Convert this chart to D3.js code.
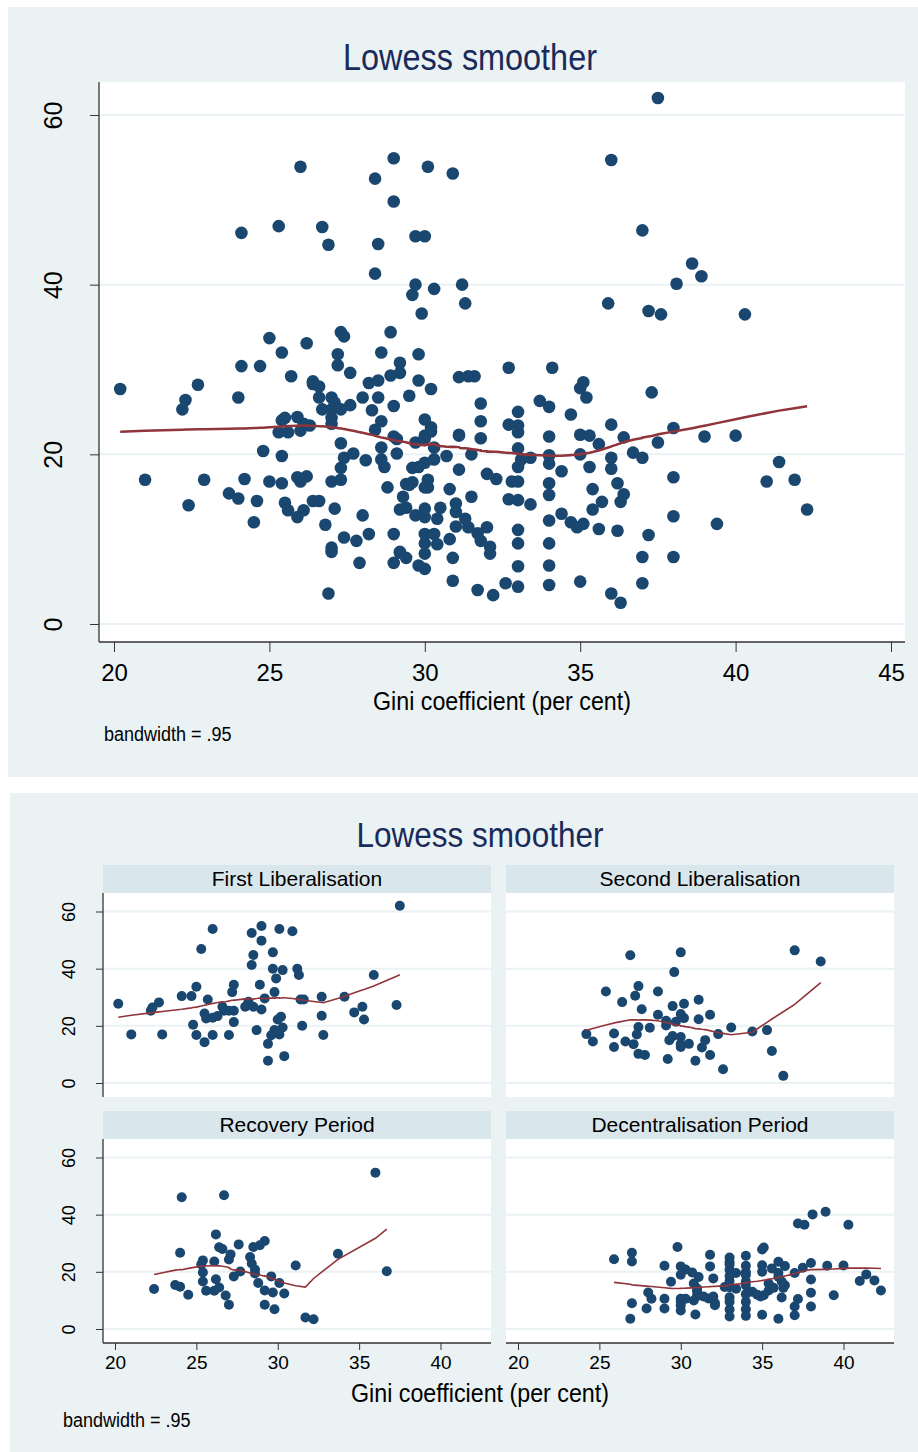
<!DOCTYPE html>
<html>
<head>
<meta charset="utf-8">
<script src="https://cdn.jsdelivr.net/npm/d3@7"></script>
<style>
  body { margin: 0; background: #fff; }
  svg { display: block; }
  text { font-family: "Liberation Sans", Arial, sans-serif; }
</style>
</head>
<body>
<svg id="chart" width="918" height="1452"></svg>
<script>
// data: [gini coefficient, y value]
const firstLib = [
  [20.2, 27.7], [21.0, 17.0], [22.9, 17.0], [22.2, 25.3], [22.3, 26.4], [22.7, 28.2],
  [24.1, 30.4], [24.7, 30.4], [25.0, 33.7], [25.3, 46.9], [26.0, 53.9], [24.8, 20.4],
  [25.0, 16.8], [25.5, 14.3], [26.0, 16.8], [25.7, 29.2], [25.5, 24.3], [25.6, 22.6],
  [26.0, 22.8], [26.3, 23.4], [26.6, 26.7], [26.7, 25.3], [27.0, 25.3], [27.3, 25.3],
  [27.0, 16.8], [27.3, 21.3], [27.2, 31.8], [27.3, 34.4], [28.0, 26.7], [28.2, 28.4],
  [28.5, 26.7], [29.0, 25.7], [28.7, 18.5], [28.9, 34.4], [28.4, 52.5], [29.0, 54.9],
  [29.0, 49.8], [28.5, 44.8], [28.4, 41.3], [29.7, 45.7], [29.7, 40.0], [30.3, 39.5],
  [29.9, 36.6], [29.8, 31.8], [29.2, 29.6], [30.1, 53.9], [30.9, 53.1], [31.2, 40.0],
  [31.3, 37.8], [30.0, 22.2], [30.2, 23.2], [30.3, 19.4], [30.1, 17.0], [29.8, 18.5],
  [29.6, 16.7], [29.4, 13.7], [29.4, 7.8], [30.4, 9.4], [31.4, 29.2], [31.6, 29.2],
  [31.5, 20.0], [32.7, 30.2], [32.7, 23.5], [32.8, 16.8], [34.1, 30.2], [34.7, 24.7],
  [35.2, 26.7], [35.3, 22.2], [35.9, 37.8], [37.3, 27.3], [37.5, 62.0]
];
const secondLib = [
  [24.2, 17.1], [24.6, 14.5], [25.4, 32.0], [25.9, 17.3], [25.9, 12.6], [26.4, 28.3],
  [26.6, 14.5], [26.9, 44.7], [27.1, 13.6], [27.2, 30.5], [27.4, 33.9], [27.6, 25.8],
  [27.4, 19.6], [27.3, 17.0], [27.4, 10.2], [27.8, 9.8], [28.1, 19.3], [28.6, 32.0],
  [28.6, 23.9], [29.1, 21.8], [29.1, 20.1], [29.2, 8.4], [29.3, 15.0], [29.5, 16.4],
  [29.5, 26.9], [29.6, 38.8], [29.7, 21.4], [30.0, 45.7], [30.0, 24.1], [30.2, 22.7],
  [30.2, 27.7], [30.0, 16.1], [30.0, 13.6], [30.0, 12.6], [30.5, 13.7], [30.9, 7.8],
  [31.1, 29.1], [31.1, 22.3], [31.8, 23.9], [31.5, 15.0], [31.3, 12.4], [31.8, 9.8],
  [32.3, 17.1], [32.6, 4.8], [33.1, 19.4], [34.4, 18.0], [35.3, 18.5], [35.6, 11.2],
  [36.3, 2.5], [37.0, 46.4], [38.6, 42.5]
];
const recovery = [
  [22.4, 14.0], [23.7, 15.4], [24.0, 14.8], [24.5, 12.0], [24.1, 46.1], [24.0, 26.7],
  [25.4, 24.0], [25.3, 22.6], [25.4, 19.8], [25.4, 16.6], [25.6, 13.4], [26.1, 13.4],
  [26.4, 14.5], [26.2, 17.4], [26.8, 11.7], [27.0, 8.5], [26.1, 23.6], [26.2, 33.1],
  [26.7, 46.8], [26.4, 28.6], [26.6, 28.0], [27.0, 24.3], [27.1, 26.1], [27.3, 18.4],
  [27.7, 20.1], [27.6, 29.6], [28.3, 25.2], [28.4, 22.9], [28.6, 20.8], [28.6, 19.4],
  [28.5, 28.7], [28.9, 29.3], [29.2, 30.8], [28.8, 16.1], [29.2, 13.5], [29.7, 12.8],
  [29.6, 18.4], [30.1, 16.1], [30.4, 12.4], [29.2, 8.5], [29.8, 6.9], [31.1, 22.2],
  [31.7, 4.0], [32.2, 3.4], [33.7, 26.3], [36.0, 54.7], [36.7, 20.2]
];
const decentral = [
  [25.9, 24.4], [27.0, 26.7], [27.0, 23.6], [27.0, 9.0], [26.9, 3.6], [28.0, 12.8],
  [28.2, 10.6], [27.9, 7.2], [29.0, 22.1], [29.0, 10.6], [29.0, 7.2], [29.8, 28.7],
  [29.4, 16.5], [30.0, 21.9], [30.0, 19.0], [30.3, 20.8], [30.7, 19.8], [30.8, 15.9],
  [31.1, 18.2], [30.0, 10.6], [30.0, 6.5], [30.3, 10.6], [30.8, 10.0], [30.9, 5.1],
  [30.0, 9.5], [30.0, 8.3], [31.0, 14.2], [31.0, 13.2], [31.0, 11.5],
  [31.4, 11.4], [31.8, 26.0], [31.8, 21.9], [32.0, 17.7], [32.0, 11.4], [32.1, 9.1],
  [31.7, 10.7], [32.1, 8.3],
  [32.7, 14.7], [33.0, 25.0], [33.0, 23.4], [33.0, 22.6], [33.0, 20.7], [33.0, 18.5],
  [33.0, 16.8], [33.0, 14.6], [33.0, 11.1], [33.0, 9.5], [33.0, 6.8], [33.0, 4.4],
  [33.4, 19.6], [33.4, 14.1], [34.0, 25.6], [34.0, 22.1], [34.0, 19.9], [34.0, 18.9],
  [34.0, 16.6], [34.0, 15.2], [34.0, 12.2], [34.0, 9.5], [34.0, 6.9], [34.0, 4.6],
  [34.4, 13.0], [34.7, 12.0], [34.9, 11.4], [35.0, 27.8], [35.1, 28.5], [35.0, 22.3],
  [35.0, 20.0], [35.1, 11.8], [35.0, 5.0], [35.4, 15.9], [35.4, 13.5], [35.7, 14.4],
  [35.6, 21.2], [36.0, 23.5], [36.0, 19.6], [36.0, 18.3], [36.2, 16.6], [36.3, 14.4],
  [36.0, 3.6], [36.4, 22.0], [36.4, 15.3], [36.2, 11.0], [37.0, 19.6], [37.2, 10.5],
  [37.0, 7.9], [37.0, 4.8], [37.2, 36.9], [37.6, 36.5], [37.5, 21.4], [38.0, 23.1],
  [38.0, 17.3], [38.0, 12.7], [38.0, 7.9], [38.1, 40.1], [38.9, 41.0], [39.0, 22.1],
  [39.4, 11.8], [40.0, 22.2], [40.3, 36.5], [41.0, 16.8], [41.4, 19.1], [41.9, 17.0],
  [42.3, 13.5]
];
const periodNames = ["First Liberalisation", "Second Liberalisation", "Recovery Period", "Decentralisation Period"];
const periodData = [firstLib, secondLib, recovery, decentral];

const yTicks = [0, 20, 40, 60];
const xTicksTop = [20, 25, 30, 35, 40, 45];
const xTicksPanel = [20, 25, 30, 35, 40];
const bandwidth = 0.95;
const titleText = "Lowess smoother";
const xTitle = "Gini coefficient (per cent)";
const note = "bandwidth = .95";

// stata s2color look
const navy = "#1a476f";
const maroon = "#90353b";
const bgCol = "#eaf2f3";
const stripCol = "#d9e6eb";
const titleCol = "#1a2a5a";
const axisCol = "#333";

const svg = d3.select("svg#chart");

// lowess the way stata does it: symmetric index window, tricube weights, local linear fit
function lowess(points, bw) {
  const pts = points.slice().sort((a, b) => a[0] - b[0]);
  const n = pts.length;
  const k = Math.floor((n * bw - 0.5) / 2);
  return pts.map((p, i) => {
    const lo = Math.max(0, i - k);
    const hi = Math.min(n - 1, i + k);
    const delta = 1.0001 * Math.max(pts[hi][0] - p[0], p[0] - pts[lo][0]);
    let sw = 0, sx = 0, sy = 0;
    const w = [];
    for (let j = lo; j <= hi; j++) {
      const u = Math.abs(pts[j][0] - p[0]) / delta;
      const wj = u < 1 ? Math.pow(1 - u * u * u, 3) : 0;
      w.push(wj);
      sw += wj; sx += wj * pts[j][0]; sy += wj * pts[j][1];
    }
    const xm = sx / sw, ym = sy / sw;
    let num = 0, den = 0;
    for (let j = lo; j <= hi; j++) {
      const wj = w[j - lo];
      num += wj * (pts[j][0] - xm) * (pts[j][1] - ym);
      den += wj * (pts[j][0] - xm) ** 2;
    }
    const b = den > 0 ? num / den : 0;
    return [p[0], ym + b * (p[0] - xm)];
  });
}

// squeeze text a bit, stata's font is narrower than arial
function narrow(sel, f) {
  sel.each(function () {
    const w = this.getComputedTextLength();
    d3.select(this).attr("textLength", w * f).attr("lengthAdjust", "spacingAndGlyphs");
  });
}

// ---------- top graph: all periods ----------
const topBox = { left: 99, right: 905, top: 82, bottom: 642 };
svg.append("rect").attr("x", 8).attr("y", 7).attr("width", 910).attr("height", 770).attr("fill", bgCol);
svg.append("rect")
  .attr("x", topBox.left).attr("y", topBox.top)
  .attr("width", topBox.right - topBox.left).attr("height", topBox.bottom - topBox.top)
  .attr("fill", "#fff");

const x = d3.scaleLinear().domain([20, 45]).range([114, 891]);
const y = d3.scaleLinear().domain([0, 60]).range([624, 115]);

const topG = svg.append("g");
topG.selectAll("line.grid").data(yTicks).join("line")
  .attr("class", "grid")
  .attr("x1", topBox.left).attr("x2", topBox.right)
  .attr("y1", (d) => y(d)).attr("y2", (d) => y(d))
  .attr("stroke", bgCol).attr("stroke-width", 2);

const allPoints = periodData.flat();
topG.selectAll("circle").data(allPoints).join("circle")
  .attr("cx", (d) => x(d[0])).attr("cy", (d) => y(d[1]))
  .attr("r", 6.3).attr("fill", navy);

topG.append("path")
  .datum(lowess(allPoints, bandwidth))
  .attr("fill", "none").attr("stroke", maroon).attr("stroke-width", 2.5)
  .attr("d", d3.line().x((d) => x(d[0])).y((d) => y(d[1])));

// axes
const yAxisTop = svg.append("g")
  .attr("transform", `translate(${topBox.left},0)`)
  .call(d3.axisLeft(y).tickValues(yTicks).tickSize(9).tickSizeOuter(0));
yAxisTop.attr("font-family", null).attr("font-size", 25);
yAxisTop.select(".domain").remove();
yAxisTop.selectAll(".tick line").attr("stroke", axisCol);
yAxisTop.selectAll(".tick text")
  .attr("transform", "rotate(-90)").attr("x", 0).attr("y", -37).attr("dy", 0)
  .attr("text-anchor", "middle").attr("fill", "#000");

const xAxisTop = svg.append("g")
  .attr("transform", `translate(0,${topBox.bottom})`)
  .call(d3.axisBottom(x).tickValues(xTicksTop).tickSize(10).tickSizeOuter(0));
xAxisTop.attr("font-family", null).attr("font-size", 24);
xAxisTop.select(".domain").remove();
xAxisTop.selectAll(".tick line").attr("stroke", axisCol);
xAxisTop.selectAll(".tick text").attr("y", 22).attr("dy", "0.71em").attr("fill", "#000");

svg.append("line")
  .attr("x1", topBox.left).attr("x2", topBox.left).attr("y1", topBox.top).attr("y2", topBox.bottom)
  .attr("stroke", axisCol).attr("stroke-width", 1.3);
svg.append("line")
  .attr("x1", topBox.left).attr("x2", topBox.right).attr("y1", topBox.bottom).attr("y2", topBox.bottom)
  .attr("stroke", axisCol).attr("stroke-width", 1.3);

svg.append("text").attr("x", 470).attr("y", 70).attr("text-anchor", "middle")
  .attr("font-size", 36).attr("fill", titleCol).text(titleText).call(narrow, 0.9);
svg.append("text").attr("x", 502).attr("y", 710).attr("text-anchor", "middle")
  .attr("font-size", 25).attr("fill", "#000").text(xTitle).call(narrow, 0.93);
svg.append("text").attr("x", 104).attr("y", 741)
  .attr("font-size", 20).attr("fill", "#000").text(note).call(narrow, 0.9);

// ---------- bottom graph: by period ----------
svg.append("rect").attr("x", 10).attr("y", 793).attr("width", 908).attr("height", 659).attr("fill", bgCol);

const colX = [103, 506];
const rowY = [865, 1111];
const panelW = 388, stripH = 28, plotH = 204;

periodData.forEach((data, i) => {
  const col = i % 2, row = Math.floor(i / 2);
  const px = colX[col], sy = rowY[row], py = sy + stripH;
  const xs = d3.scaleLinear().domain([20, 40]).range([px + 12, px + 337.5]);
  const ys = d3.scaleLinear().domain([0, 60]).range([py + 190, py + 18.5]);
  const g = svg.append("g");

  g.append("rect").attr("x", px).attr("y", sy).attr("width", panelW).attr("height", stripH).attr("fill", stripCol);
  g.append("text").attr("x", px + panelW / 2).attr("y", sy + 21).attr("text-anchor", "middle")
    .attr("font-size", 21).attr("fill", "#000").text(periodNames[i]);

  g.append("rect").attr("x", px).attr("y", py).attr("width", panelW).attr("height", plotH).attr("fill", "#fff");
  g.selectAll("line.grid").data(yTicks).join("line")
    .attr("class", "grid")
    .attr("x1", px).attr("x2", px + panelW)
    .attr("y1", (d) => ys(d)).attr("y2", (d) => ys(d))
    .attr("stroke", bgCol).attr("stroke-width", 2);

  g.selectAll("circle").data(data).join("circle")
    .attr("cx", (d) => xs(d[0])).attr("cy", (d) => ys(d[1]))
    .attr("r", 5).attr("fill", navy);

  g.append("path")
    .datum(lowess(data, bandwidth))
    .attr("fill", "none").attr("stroke", maroon).attr("stroke-width", 1.6)
    .attr("d", d3.line().x((d) => xs(d[0])).y((d) => ys(d[1])));

  if (col === 0) {
    const ya = g.append("g").attr("transform", `translate(${px},0)`)
      .call(d3.axisLeft(ys).tickValues(yTicks).tickSize(7).tickSizeOuter(0));
    ya.attr("font-family", null).attr("font-size", 18);
    ya.select(".domain").remove();
    ya.selectAll(".tick line").attr("stroke", axisCol);
    ya.selectAll(".tick text")
      .attr("transform", "rotate(-90)").attr("x", 0).attr("y", -28).attr("dy", 0)
      .attr("text-anchor", "middle").attr("fill", "#000");
    g.append("line").attr("x1", px).attr("x2", px).attr("y1", py).attr("y2", py + plotH)
      .attr("stroke", axisCol).attr("stroke-width", 1.3);
  }
  if (row === 1) {
    const xa = g.append("g").attr("transform", `translate(0,${py + plotH})`)
      .call(d3.axisBottom(xs).tickValues(xTicksPanel).tickSize(7).tickSizeOuter(0));
    xa.attr("font-family", null).attr("font-size", 19);
    xa.select(".domain").remove();
    xa.selectAll(".tick line").attr("stroke", axisCol);
    xa.selectAll(".tick text").attr("y", 13).attr("dy", "0.71em").attr("fill", "#000");
    g.append("line").attr("x1", px).attr("x2", px + panelW).attr("y1", py + plotH).attr("y2", py + plotH)
      .attr("stroke", axisCol).attr("stroke-width", 1.3);
  }
});

svg.append("text").attr("x", 480).attr("y", 847).attr("text-anchor", "middle")
  .attr("font-size", 35).attr("fill", titleCol).text(titleText).call(narrow, 0.9);
svg.append("text").attr("x", 480).attr("y", 1402).attr("text-anchor", "middle")
  .attr("font-size", 25).attr("fill", "#000").text(xTitle).call(narrow, 0.93);
svg.append("text").attr("x", 63).attr("y", 1427)
  .attr("font-size", 20).attr("fill", "#000").text(note).call(narrow, 0.9);
</script>
</body>
</html>
